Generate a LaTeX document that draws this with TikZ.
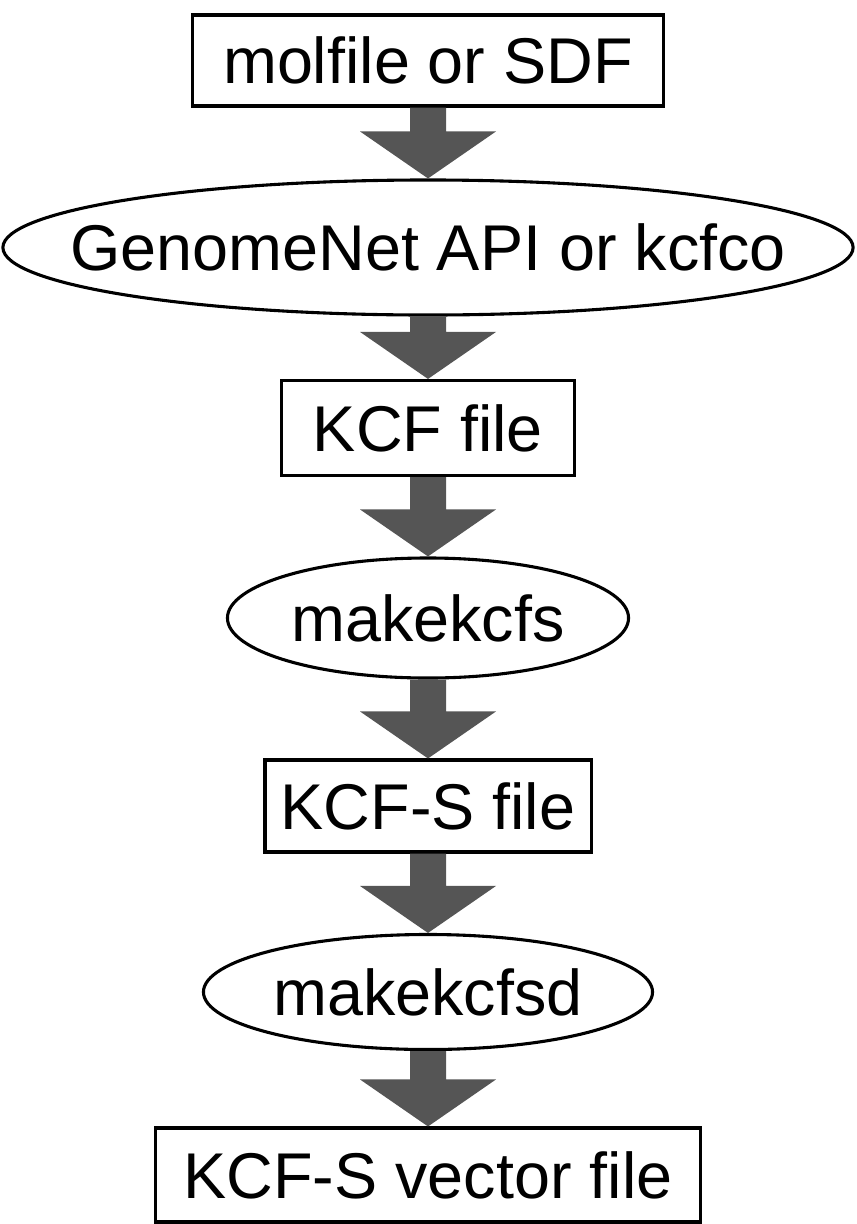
\documentclass[tikz,border=0pt]{standalone}
\usepackage{fontspec}
\setmainfont{Liberation Sans}
\usetikzlibrary{shapes.geometric,calc}
\definecolor{arrowgray}{RGB}{85,85,85}
% thick grey block arrow from the bottom of #1 to the top of #2
\newcommand\blockarrow[2]{%
  \fill[arrowgray] ($(#1.south)+(-18,0)$) -- ($(#1.south)+(18,0)$)
    -- ($(#2.north)+(18,-47)$) -- ($(#2.north)+(68,-47)$) -- (#2.north)
    -- ($(#2.north)+(-68,-47)$) -- ($(#2.north)+(-18,-47)$) -- cycle;}
\begin{document}
\begin{tikzpicture}[x=.025cm,y=-.025cm,line width=2.2pt,
  every node/.style={font=\fontsize{46}{55}\selectfont,inner sep=0pt},
  filebox/.style={draw,rectangle},
  tool/.style={draw,ellipse,inner xsep=-3cm}]
  \path[use as bounding box] (0,0) rectangle (856,1224);
  \node[filebox,minimum width=11.75cm,minimum height=2.275cm] (mol) at (428,60.5) {molfile or SDF};
  \node[tool,minimum width=21.25cm,minimum height=3.375cm] (api) at (428,247.5) {GenomeNet API or kcfco};
  \node[filebox,minimum width=7.325cm,minimum height=2.375cm] (kcf) at (428,428) {KCF file};
  \node[tool,minimum width=10.025cm,minimum height=3cm] (mks) at (428,618) {makekcfs};
  \node[filebox,minimum width=8.15cm,minimum height=2.3cm] (kcfs) at (428,806) {KCF-S file};
  \node[tool,minimum width=11.225cm,minimum height=2.875cm] (mksd) at (428,992) {makekcfsd};
  \node[filebox,minimum width=13.625cm,minimum height=2.35cm] (vec) at (428,1175) {KCF-S vector file};
  \blockarrow{mol}{api}
  \blockarrow{api}{kcf}
  \blockarrow{kcf}{mks}
  \blockarrow{mks}{kcfs}
  \blockarrow{kcfs}{mksd}
  \blockarrow{mksd}{vec}
\end{tikzpicture}
\end{document}
